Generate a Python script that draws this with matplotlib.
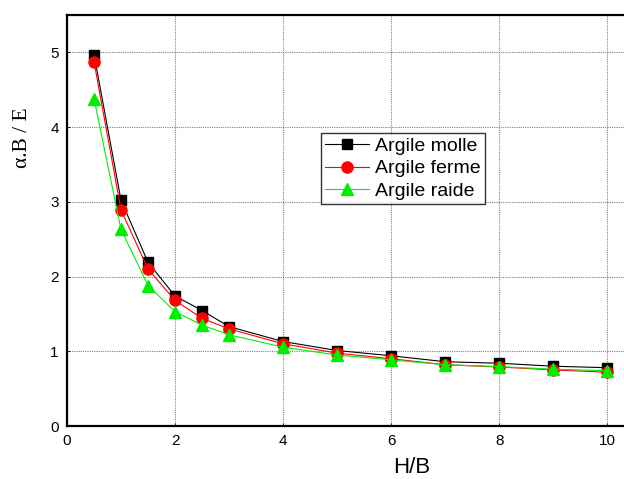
import matplotlib
matplotlib.use("Agg")
import matplotlib.pyplot as plt

# H/B ratio values
hb = [0.5, 1, 1.5, 2, 2.5, 3, 4, 5, 6, 7, 8, 9, 10]

# alpha.B/E for each clay type
argile_molle = [4.97, 3.02, 2.19, 1.74, 1.545, 1.33, 1.13, 1.01, 0.94, 0.86, 0.84, 0.80, 0.78]
argile_ferme = [4.875, 2.89, 2.10, 1.68, 1.44, 1.30, 1.10, 0.975, 0.90, 0.82, 0.79, 0.75, 0.72]
argile_raide = [4.38, 2.63, 1.88, 1.53, 1.35, 1.22, 1.055, 0.95, 0.885, 0.82, 0.795, 0.76, 0.74]

labels = ["Argile molle", "Argile ferme", "Argile raide"]

plt.rcParams["font.family"] = ["Liberation Sans", "DejaVu Sans"]

fig = plt.figure(figsize=(6.24, 4.79), dpi=100)
ax = fig.add_axes([67 / 624, 1 - 426 / 479, 1 - 67 / 624, (426 - 15) / 479])

ax.plot(hb, argile_molle, color="black", lw=0.8, marker="s", ms=6.5,
        label=labels[0], zorder=3)
ax.plot(hb, argile_ferme, color="red", lw=0.8, marker="o", ms=8,
        label=labels[1], zorder=4)
ax.plot(hb, argile_raide, color="#00ee00", lw=0.8, marker="^", ms=8,
        label=labels[2], zorder=5)

ax.set_xlim(0, 10.31)
ax.set_ylim(0, 5.5)
ax.set_xticks([0, 2, 4, 6, 8, 10])
ax.set_yticks([0, 1, 2, 3, 4, 5])
ax.tick_params(direction="in", length=2, width=0.6, labelsize=11, pad=6)

ax.grid(True, color="#808080", linestyle=(0, (1, 1)), linewidth=0.8, zorder=0)
ax.set_axisbelow(True)

for side in ["left", "bottom", "top"]:
    ax.spines[side].set_linewidth(1.6)
ax.spines["right"].set_visible(False)

ax.set_xlabel("H/B", fontsize=16)
ax.xaxis.set_label_coords(0.619, -0.076)
ax.set_ylabel("α.B / E", fontsize=15.5, family=["Liberation Serif", "DejaVu Serif"])
ax.yaxis.set_label_coords(-0.062, 0.702)

leg = ax.legend(loc="upper left", bbox_to_anchor=(0.4555, 0.712), borderaxespad=0,
                fontsize=14, frameon=True, fancybox=False, handlelength=2.3,
                handletextpad=0.3, labelspacing=0.25, borderpad=0.2)
leg.get_frame().set_edgecolor("black")
leg.get_frame().set_linewidth(1.0)

fig.savefig("out.png", dpi=100)
